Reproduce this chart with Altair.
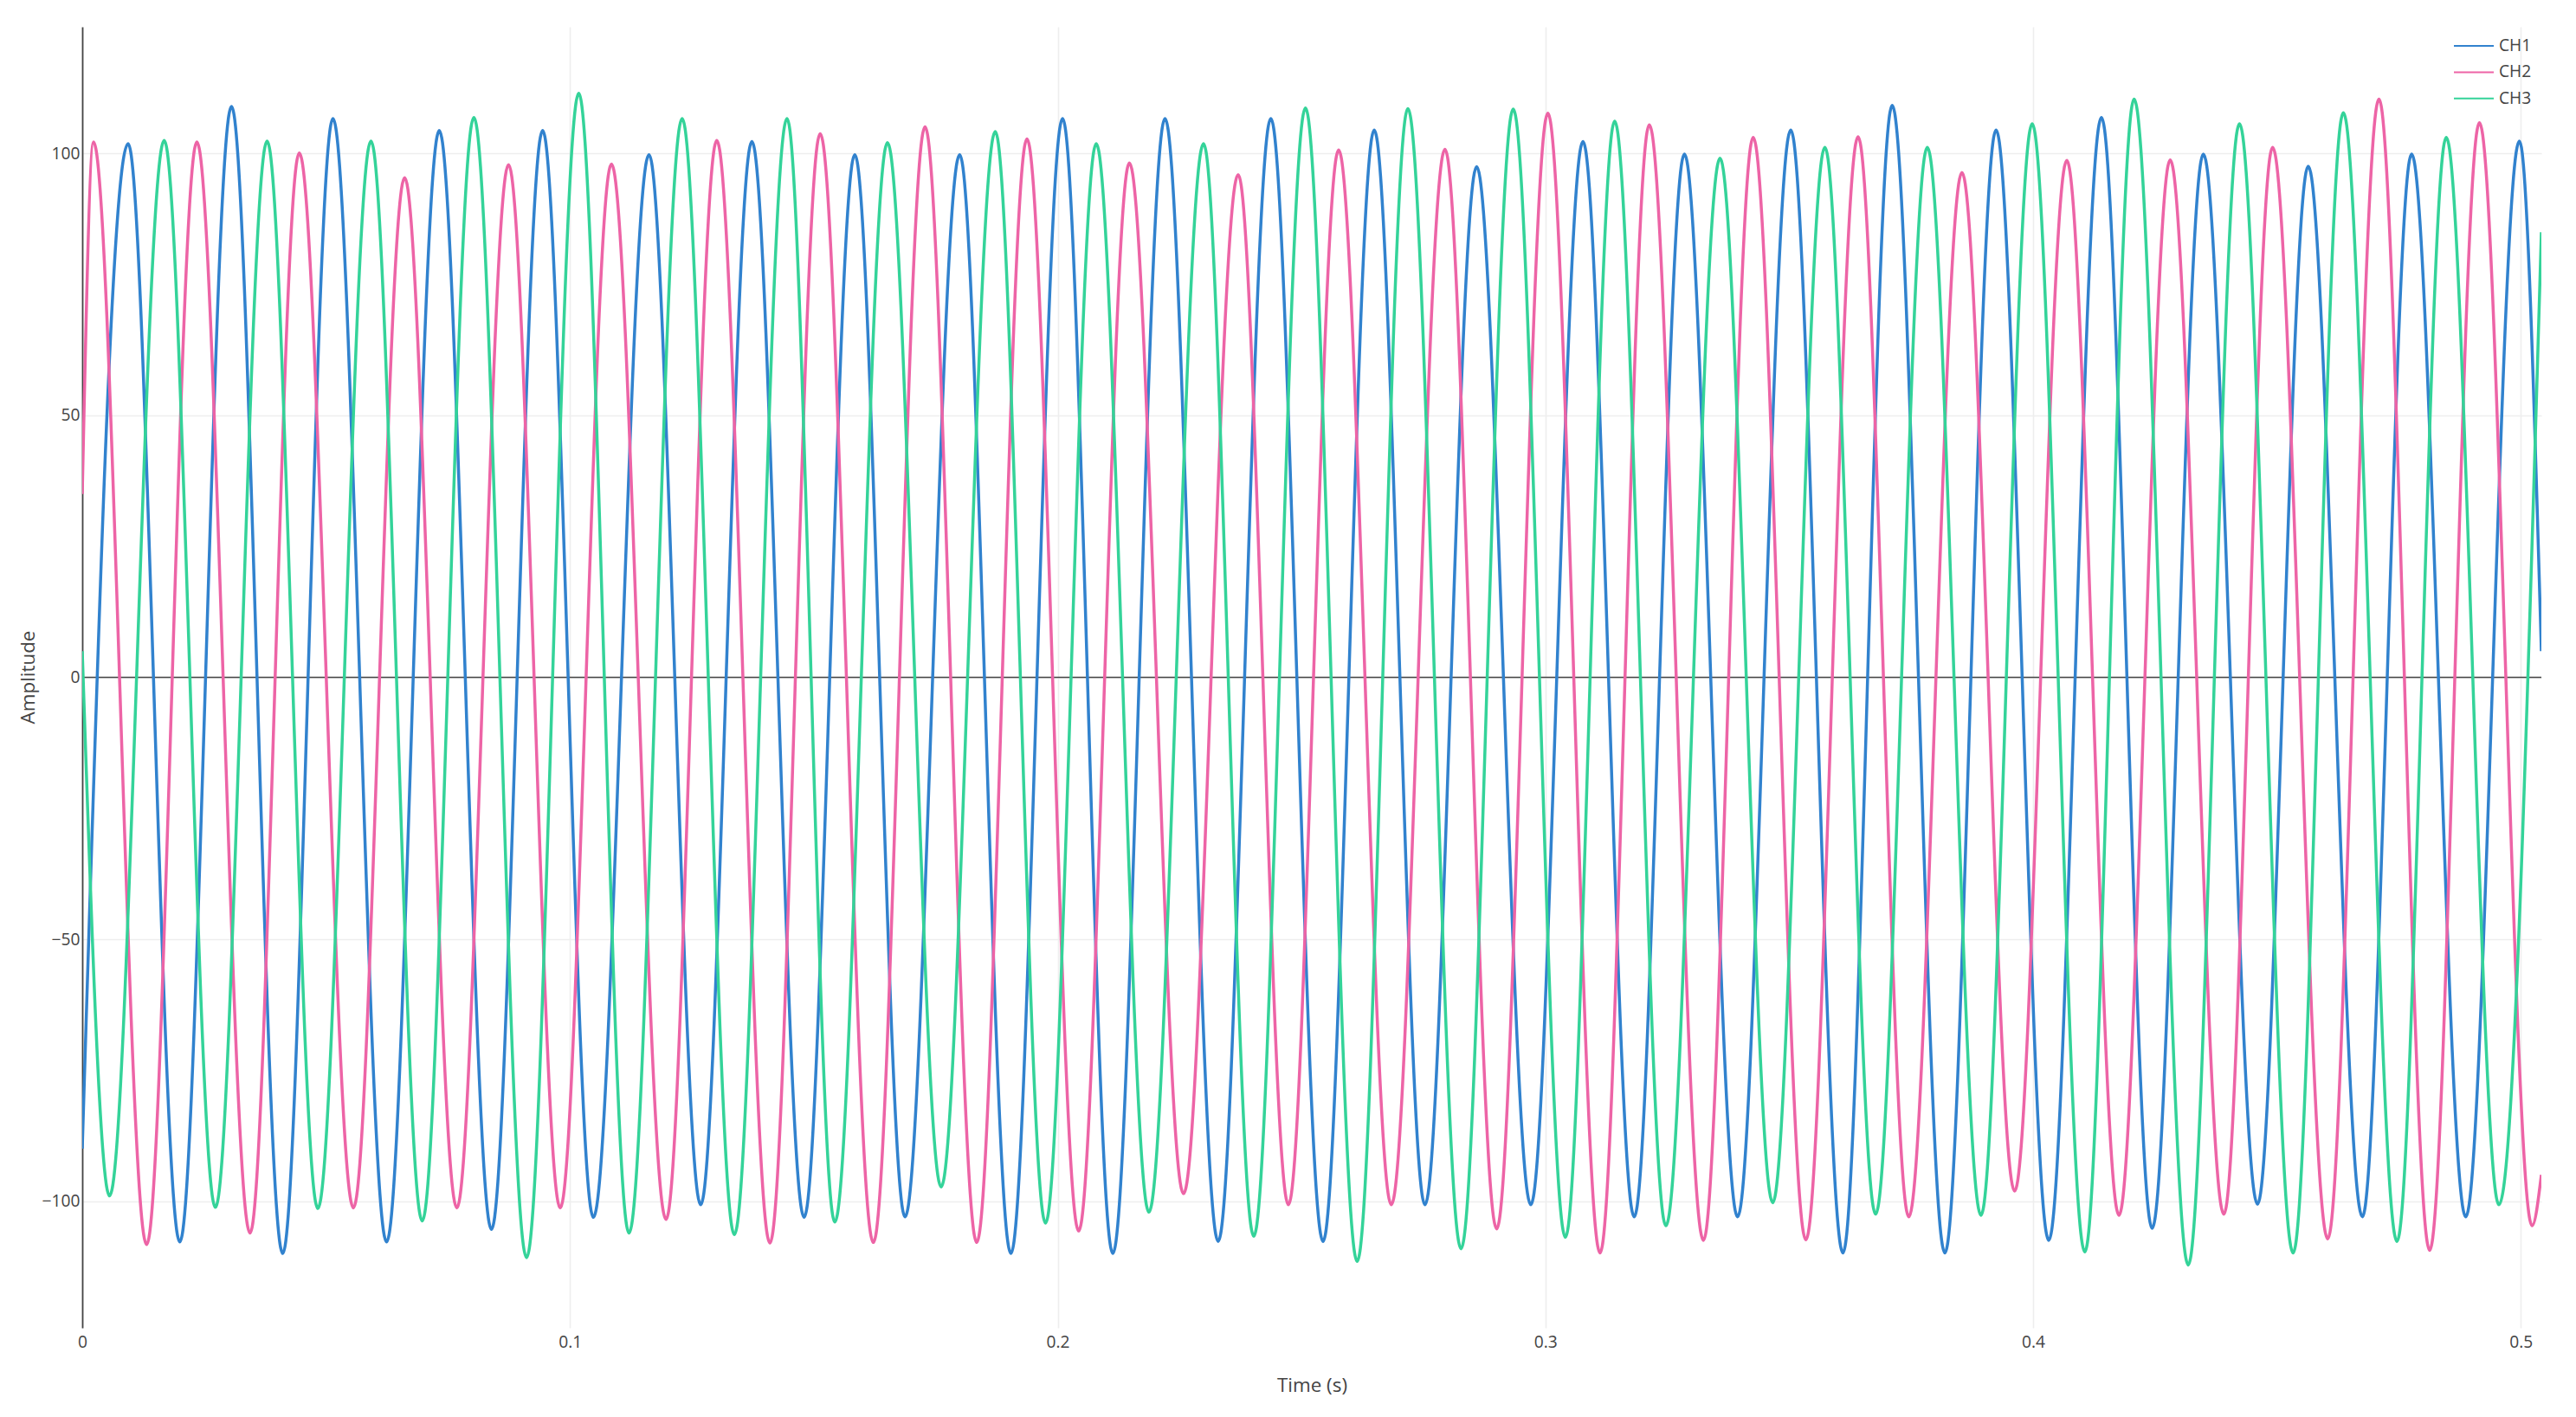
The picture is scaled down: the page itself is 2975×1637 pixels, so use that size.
import altair as alt
import pandas as pd

# ---------------- data ----------------
channels = ["CH1", "CH2", "CH3"]
colors = ["#3182ce", "#ed64a6", "#34d399"]

# extremes (peaks / troughs) of each channel, plus first and last sample
ch1_time = [0, 0.0094, 0.0200, 0.0306, 0.0411, 0.0514, 0.0624, 0.0732, 0.0839, 0.0944,
            0.1048, 0.1162, 0.1268, 0.1373, 0.1480, 0.1584, 0.1687, 0.1799, 0.1904, 0.2010,
            0.2113, 0.2220, 0.2329, 0.2437, 0.2544, 0.2649, 0.2753, 0.2859, 0.2970, 0.3077,
            0.3182, 0.3285, 0.3394, 0.3503, 0.3610, 0.3711, 0.3819, 0.3924, 0.4032, 0.4140,
            0.4244, 0.4349, 0.4460, 0.4564, 0.4675, 0.4776, 0.4887, 0.4997, 0.5042]
ch1_value = [-90, 101.9, -107.8, 109.0, -110.0, 106.7, -107.8, 104.4, -105.4, 104.4,
             -103.1, 99.8, -100.7, 102.3, -103.1, 99.8, -103.0, 99.8, -110.0, 106.7,
             -110.0, 106.7, -107.7, 106.7, -107.7, 104.5, -100.7, 97.5, -100.7, 102.3,
             -103.0, 99.9, -103.0, 104.5, -109.9, 109.2, -109.9, 104.5, -107.5, 106.9,
             -105.2, 99.9, -100.6, 97.6, -103.0, 99.9, -103.0, 102.4, 5]

ch2_time = [0, 0.0023, 0.0132, 0.0235, 0.0344, 0.0445, 0.0556, 0.0661, 0.0768, 0.0874,
            0.0980, 0.1085, 0.1197, 0.1301, 0.1410, 0.1513, 0.1622, 0.1728, 0.1834, 0.1937,
            0.2043, 0.2147, 0.2258, 0.2370, 0.2473, 0.2576, 0.2684, 0.2794, 0.2900, 0.3005,
            0.3112, 0.3213, 0.3324, 0.3426, 0.3534, 0.3641, 0.3745, 0.3854, 0.3962, 0.4069,
            0.4176, 0.4281, 0.4391, 0.4491, 0.4604, 0.4709, 0.4813, 0.4915, 0.5023, 0.5042]
ch2_value = [35, 102.2, -108.3, 102.2, -106.1, 100.1, -101.3, 95.4, -101.3, 97.9,
             -101.3, 98.0, -103.5, 102.5, -108.0, 103.8, -107.9, 105.1, -107.9, 102.8,
             -105.7, 98.2, -98.6, 96.0, -100.7, 100.7, -100.7, 100.8, -105.3, 107.7,
             -109.9, 105.5, -107.5, 103.1, -107.4, 103.2, -103.0, 96.4, -98.1, 98.7,
             -102.7, 98.8, -102.5, 101.2, -107.2, 110.4, -109.4, 105.9, -104.7, -95]

ch3_time = [0, 0.0056, 0.0168, 0.0273, 0.0379, 0.0483, 0.0592, 0.0697, 0.0803, 0.0911,
            0.1018, 0.1121, 0.1230, 0.1337, 0.1445, 0.1543, 0.1651, 0.1761, 0.1872, 0.1975,
            0.2079, 0.2187, 0.2299, 0.2402, 0.2508, 0.2614, 0.2718, 0.2827, 0.2934, 0.3041,
            0.3142, 0.3247, 0.3358, 0.3466, 0.3573, 0.3677, 0.3783, 0.3893, 0.3998, 0.4106,
            0.4207, 0.4318, 0.4423, 0.4533, 0.4636, 0.4746, 0.4847, 0.4955, 0.5042]
ch3_value = [5, -99.0, 102.5, -101.2, 102.4, -101.4, 102.4, -103.8, 106.9, -110.8,
             111.5, -106.1, 106.7, -106.4, 106.7, -104.0, 102.1, -97.3, 104.2, -104.2,
             101.9, -102.1, 101.9, -106.7, 108.7, -111.5, 108.6, -109.1, 108.5, -106.9,
             106.2, -104.7, 99.1, -100.3, 101.2, -102.5, 101.2, -102.7, 105.7, -109.7,
             110.4, -112.2, 105.7, -109.9, 107.8, -107.7, 103.1, -100.7, 85]

x_ticks = [0, 0.1, 0.2, 0.3, 0.4, 0.5]
y_ticks = [-100, -50, 0, 50, 100]
x_domain = [0, 0.5042]
y_domain = [-124.2, 124.2]

# ---------------- table ----------------
rows = []
for name, ts, vs in [("CH1", ch1_time, ch1_value),
                     ("CH2", ch2_time, ch2_value),
                     ("CH3", ch3_time, ch3_value)]:
    assert len(ts) == len(vs)
    for t, v in zip(ts, vs):
        rows.append({"channel": name, "time": t, "amplitude": v})
df = pd.DataFrame(rows)
zero_df = pd.DataFrame({"amplitude": [0]})

FONT = "Open Sans"
TXT = "#444444"

x_enc = alt.X(
    "time:Q",
    scale=alt.Scale(domain=x_domain, nice=False, zero=False),
    axis=alt.Axis(
        values=x_ticks, format="~g", title="Time (s)",
        domain=False, ticks=False, grid=True, labelFlush=False,
        labelPadding=7, labelFontSize=19.2, labelColor=TXT, labelFont=FONT,
        titleFontSize=22.4, titleColor=TXT, titleFont=FONT, titleFontWeight="normal",
        titleY=66, titleBaseline="middle",
    ),
)
y_enc = alt.Y(
    "amplitude:Q",
    scale=alt.Scale(domain=y_domain, nice=False, zero=False),
    axis=alt.Axis(
        values=y_ticks, format="d", title="Amplitude",
        domain=True, domainColor=TXT, domainWidth=1.8,
        ticks=False, grid=True, labelFlush=False,
        labelPadding=3, labelFontSize=19.2, labelColor=TXT, labelFont=FONT,
        titleFontSize=22.4, titleColor=TXT, titleFont=FONT, titleFontWeight="normal",
        titleX=-63, titleY=751, titleAngle=270, titleBaseline="middle", titleAlign="center",
    ),
)
color_enc = alt.Color(
    "channel:N",
    scale=alt.Scale(domain=channels, range=colors),
    legend=alt.Legend(
        title=None, orient="none", legendX=2738, legendY=12,
        symbolType="stroke", symbolSize=2116, symbolStrokeWidth=2,
        labelFontSize=19.2, labelColor=TXT, labelFont=FONT, labelOffset=5,
        padding=0, clipHeight=20, rowPadding=9.4,
    ),
)

zero_line = alt.Chart(zero_df).mark_rule(color=TXT, strokeWidth=1.3).encode(
    y=alt.Y("amplitude:Q")
)

layers = [zero_line]
for c in channels:
    layers.append(
        alt.Chart(df)
        .transform_filter(alt.datum.channel == c)
        .mark_line(interpolate="monotone", strokeWidth=3.5, clip=True)
        .encode(x=x_enc, y=y_enc, color=color_enc)
    )

chart = (
    alt.layer(*layers)
    .properties(
        width=2840, height=1503,
        padding={"left": 87, "top": 23, "right": 30, "bottom": 90},
        autosize=alt.AutoSizeParams(type="none"),
        background="white",
    )
    .configure_view(stroke=None)
    .configure_axis(gridColor="#eeeeee", gridWidth=1.6)
)

chart.save("out.html", embed_options={"renderer": "svg", "actions": False})
